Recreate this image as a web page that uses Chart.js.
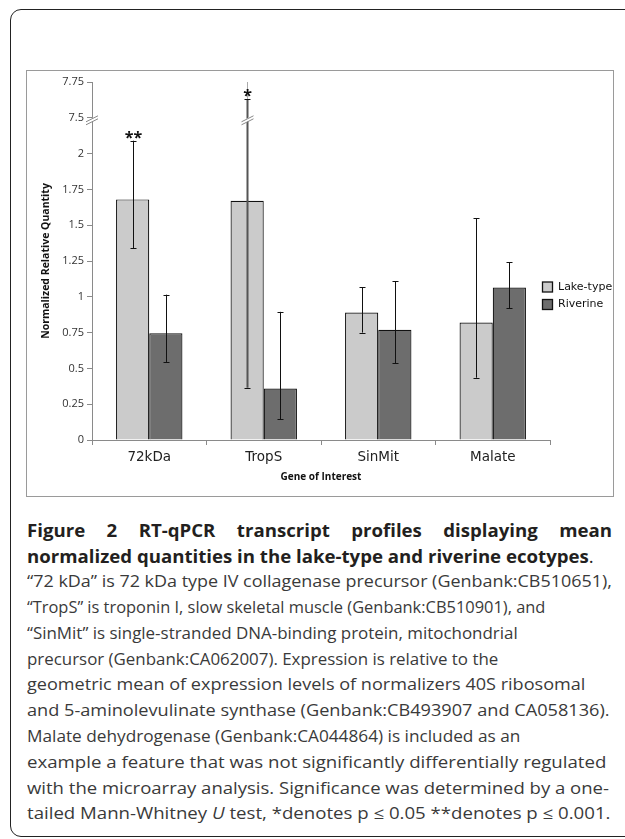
<!DOCTYPE html>
<html>
<head>
<meta charset="utf-8">
<script src="https://cdn.jsdelivr.net/npm/chart.js@4.4.0/dist/chart.umd.min.js"></script>
<style>
html,body{margin:0;padding:0;background:#fff;width:625px;height:839px;overflow:hidden;position:relative;}
#frame{position:absolute;left:10px;top:9px;width:700px;height:828px;border:1.5px solid #222;border-radius:11px;box-sizing:border-box;}
#box{position:absolute;left:26px;top:70px;width:588px;height:427px;border:1px solid #9a9a9a;box-sizing:border-box;}
#wrap{position:absolute;left:27px;top:71px;width:586px;height:425px;}
.cap{position:absolute;left:27px;white-space:nowrap;transform-origin:0 50%;font-family:'Open Sans',sans-serif;line-height:26px;height:26px;}
.t{font-size:18.5px;font-weight:700;color:#231f20;}
.b{font-size:16px;font-weight:400;color:#3a3a3a;}
.t .n{font-weight:400;}
</style>
</head>
<body>
<div id="frame"></div>
<div id="box"></div>
<div id="wrap"><canvas id="c" width="586" height="425"></canvas></div>

<div class="cap t" id="t1" style="top:517px">Figure 2 RT-qPCR transcript profiles displaying mean</div>
<div class="cap t" id="t2" style="top:543px">normalized quantities in the lake-type and riverine ecotypes<span class="n">.</span></div>
<div class="cap b" style="top:568px">“72 kDa” is 72 kDa type IV collagenase precursor (Genbank:CB510651),</div>
<div class="cap b" style="top:594px">“TropS” is troponin I, slow skeletal muscle (Genbank:CB510901), and</div>
<div class="cap b" style="top:620px">“SinMit” is single-stranded DNA-binding protein, mitochondrial</div>
<div class="cap b" style="top:646px">precursor (Genbank:CA062007). Expression is relative to the</div>
<div class="cap b" style="top:671px">geometric mean of expression levels of normalizers 40S ribosomal</div>
<div class="cap b" style="top:697px">and 5-aminolevulinate synthase (Genbank:CB493907 and CA058136).</div>
<div class="cap b" style="top:723px">Malate dehydrogenase (Genbank:CA044864) is included as an</div>
<div class="cap b" style="top:749px">example a feature that was not significantly differentially regulated</div>
<div class="cap b" style="top:775px">with the microarray analysis. Significance was determined by a one-</div>
<div class="cap b" style="top:800px">tailed Mann-Whitney <i>U</i> test, *denotes p ≤ 0.05 **denotes p ≤ 0.001.</div>

<script>
// ---- data ----
const categories = ['72kDa', 'TropS', 'SinMit', 'Malate'];
const lakeMean  = [1.68, 1.67, 0.89, 0.82];
const lakeLow   = [1.34, 0.365, 0.75, 0.435];
const lakeHigh  = [2.09, 7.63, 1.065, 1.55];
const riverMean = [0.745, 0.36, 0.77, 1.065];
const riverLow  = [0.545, 0.145, 0.535, 0.92];
const riverHigh = [1.015, 0.895, 1.11, 1.24];
const significance = ['**', '*', '', ''];
const yTickLabels = ['0', '0.25', '0.5', '0.75', '1', '1.25', '1.5', '1.75', '2', '7.5', '7.75'];
const seriesNames = ['Lake-type', 'Riverine'];

// broken axis: real value 7.5 is drawn at scale position 2.25
const breakAt = 2.25;
const breakValue = 7.5;
function toScale(v) { return v >= breakValue ? breakAt + (v - breakValue) : v; }

function breakMark(ctx, x, y, color) {
  ctx.save();
  ctx.strokeStyle = '#fff';
  ctx.lineWidth = 3;
  ctx.beginPath(); ctx.moveTo(x - 6, y + 4); ctx.lineTo(x + 6, y - 2); ctx.stroke();
  ctx.strokeStyle = color;
  ctx.lineWidth = 1;
  ctx.beginPath();
  ctx.moveTo(x - 6, y + 3); ctx.lineTo(x + 6, y - 3);
  ctx.moveTo(x - 6, y + 6); ctx.lineTo(x + 6, y);
  ctx.stroke();
  ctx.restore();
}

const extras = {
  id: 'extras',
  afterDatasetsDraw(chart) {
    const ctx = chart.ctx, ys = chart.scales.y, area = chart.chartArea;
    const errs = [[lakeLow, lakeHigh], [riverLow, riverHigh]];
    const yBreak = ys.getPixelForValue(breakAt);
    errs.forEach((pair, di) => {
      const meta = chart.getDatasetMeta(di);
      meta.data.forEach((bar, i) => {
        const x = Math.round(bar.x) + 0.5;
        const lo = ys.getPixelForValue(toScale(pair[0][i]));
        const hi = ys.getPixelForValue(toScale(pair[1][i]));
        const broken = pair[1][i] >= breakValue;
        ctx.save();
        if (broken) {
          ctx.strokeStyle = '#aaa'; ctx.lineWidth = 1;
          ctx.beginPath(); ctx.moveTo(x, hi); ctx.lineTo(x, area.top); ctx.stroke();
          ctx.strokeStyle = '#555'; ctx.lineWidth = 2;
        } else {
          ctx.strokeStyle = '#111'; ctx.lineWidth = 1;
        }
        ctx.beginPath();
        ctx.moveTo(x, lo); ctx.lineTo(x, hi);
        ctx.stroke();
        ctx.strokeStyle = '#111'; ctx.lineWidth = 1;
        ctx.beginPath();
        ctx.moveTo(x - 3, Math.round(lo) + 0.5); ctx.lineTo(x + 3, Math.round(lo) + 0.5);
        ctx.moveTo(x - 3, Math.round(hi) + 0.5); ctx.lineTo(x + 3, Math.round(hi) + 0.5);
        ctx.stroke();
        ctx.restore();
        if (broken) breakMark(ctx, x, yBreak + 1, '#888');
        if (di === 0 && significance[i]) {
          ctx.save();
          ctx.fillStyle = '#111';
          ctx.font = 'bold 16px "Open Sans"';
          ctx.textAlign = 'center';
          ctx.textBaseline = 'alphabetic';
          ctx.fillText(significance[i], x, hi + 2);
          ctx.restore();
        }
      });
    });
    // axis break on y axis
    breakMark(ctx, area.left, yBreak + 1, '#888');
    // legend
    ctx.save();
    ctx.font = '11px "DejaVu Sans"';
    ctx.textBaseline = 'middle';
    ctx.textAlign = 'left';
    chart.data.datasets.forEach((ds, i) => {
      const cy = 216 + i * 17.5;
      ctx.fillStyle = ds.backgroundColor;
      ctx.fillRect(515.5, cy - 5, 10, 10);
      ctx.strokeStyle = '#111'; ctx.lineWidth = 1.3;
      ctx.strokeRect(515.5, cy - 5, 10, 10);
      ctx.fillStyle = '#111';
      ctx.fillText(seriesNames[i], 531, cy);
    });
    ctx.restore();
  }
};

new Chart(document.getElementById('c'), {
  type: 'bar',
  data: {
    labels: categories,
    datasets: [
      { label: seriesNames[0], data: lakeMean.map(toScale), backgroundColor: '#cbcbcb', borderColor: '#111', borderWidth: 1.2, categoryPercentage: 0.58, barPercentage: 1 },
      { label: seriesNames[1], data: riverMean.map(toScale), backgroundColor: '#6d6d6d', borderColor: '#111', borderWidth: 1.2, categoryPercentage: 0.58, barPercentage: 1 }
    ]
  },
  options: {
    responsive: false,
    animation: false,
    layout: { padding: { left: 0, top: 11, right: 63, bottom: 0 } },
    plugins: { legend: { display: false }, tooltip: { enabled: false } },
    scales: {
      x: {
        grid: { drawOnChartArea: false, offset: true, tickLength: 5, color: '#8a8a8a' },
        border: { color: '#8a8a8a' },
        ticks: { font: { family: 'DejaVu Sans', size: 13.5 }, color: '#222', padding: 4 },
        title: { display: true, text: 'Gene of Interest', font: { family: 'Open Sans', weight: 'bold', size: 10 }, color: '#111', padding: { top: 0, bottom: 13 } },
        afterFit(s) { s.height = 56; }
      },
      y: {
        min: 0, max: 2.5,
        ticks: { stepSize: 0.25, autoSkip: false, callback: (v, i) => yTickLabels[i], font: { family: 'Open Sans', size: 11 }, color: '#333', padding: 3 },
        grid: { drawOnChartArea: false, tickLength: 5, color: '#8a8a8a' },
        border: { color: '#8a8a8a' },
        title: { display: true, text: 'Normalized Relative Quantity', font: { family: 'Open Sans', weight: 'bold', size: 10.5 }, color: '#111', padding: { top: 12.5, bottom: 0 } },
        afterFit(s) { s.width = 65; }
      }
    }
  },
  plugins: [extras]
});

// caption layout: fit each line to the measured line length of the original column
const bodyWidths = [585, 518, 491, 471, 558, 583, 493, 579, 582, 583];
function fitCaption() {
  const bodies = Array.from(document.querySelectorAll('.cap.b'));
  bodies.forEach((e, i) => {
    e.style.transform = 'none';
    const s = bodyWidths[i] / e.offsetWidth;
    e.style.transform = 'scaleX(' + s + ')';
  });
  const t1 = document.getElementById('t1'), t2 = document.getElementById('t2');
  t1.style.transform = 'none'; t2.style.transform = 'none'; t1.style.wordSpacing = '0px';
  const s2 = 567 / t2.offsetWidth;
  const nat = t1.offsetWidth;
  const ws = (585 / s2 - nat) / 6;
  t1.style.wordSpacing = ws + 'px';
  t1.style.transform = 'scaleX(' + s2 + ')';
  t2.style.transform = 'scaleX(' + s2 + ')';
}
fitCaption();
if (document.fonts && document.fonts.ready) document.fonts.ready.then(fitCaption);
</script>
</body>
</html>
